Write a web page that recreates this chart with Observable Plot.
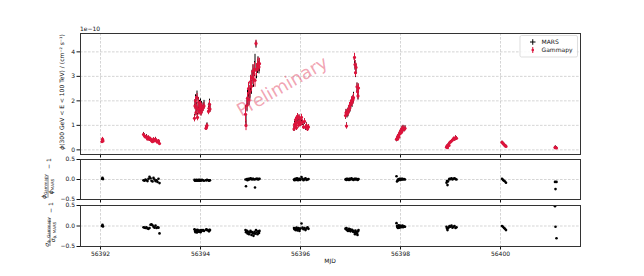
<!DOCTYPE html>
<html>
<head>
<meta charset="utf-8">
<script src="https://cdn.jsdelivr.net/npm/d3@7"></script>
<script src="https://cdn.jsdelivr.net/npm/@observablehq/plot@0.6"></script>
<style>
  html, body { margin: 0; padding: 0; background: white; }
  #chart { position: relative; width: 644px; height: 276px; overflow: hidden; }
  #chart > svg { position: absolute; left: 0; top: 0; }
</style>
</head>
<body>
<div id="chart"></div>
<script>
// ---------------- data (flux in units of 1e-10 cm^-2 s^-1) ----------------
const mjd = [
  56392.03, 56392.04, 56392.05,
  56392.86, 56392.88, 56392.90, 56392.92, 56392.94, 56392.96, 56392.98, 56393.00, 56393.02, 56393.04, 56393.06, 56393.08, 56393.10, 56393.12, 56393.14, 56393.16, 56393.18,
  56393.88, 56393.89, 56393.90, 56393.91, 56393.92, 56393.93, 56393.94, 56393.95, 56393.96, 56393.97, 56393.98, 56393.99, 56394.00, 56394.01, 56394.02, 56394.03, 56394.05, 56394.07, 56394.11, 56394.12, 56394.13, 56394.16, 56394.17, 56394.18, 56394.19,
  56394.90, 56394.91, 56394.93, 56394.94, 56394.96, 56394.97, 56394.99, 56395.00, 56395.02, 56395.03, 56395.05, 56395.06, 56395.08, 56395.09, 56395.11, 56395.12, 56395.14, 56395.15, 56395.17, 56395.18,
  56395.87, 56395.88, 56395.89, 56395.90, 56395.91, 56395.92, 56395.93, 56395.94, 56395.95, 56395.96, 56395.97, 56395.98, 56395.99, 56396.00, 56396.02, 56396.04, 56396.06, 56396.08, 56396.10, 56396.12, 56396.14, 56396.16,
  56396.90, 56396.91, 56396.92, 56396.93, 56396.94, 56396.95, 56396.97, 56396.98, 56396.99, 56397.00, 56397.02, 56397.03, 56397.05, 56397.06, 56397.08, 56397.09, 56397.10, 56397.11, 56397.13, 56397.14, 56397.15, 56397.16,
  56397.92, 56397.93, 56397.94, 56397.95, 56397.96, 56397.97, 56397.98, 56397.99, 56398.00, 56398.01, 56398.02, 56398.03, 56398.04, 56398.05, 56398.07, 56398.09,
  56398.92, 56398.93, 56398.94, 56398.95, 56398.97, 56398.98, 56399.00, 56399.02, 56399.04, 56399.06, 56399.08, 56399.10, 56399.12,
  56400.03, 56400.05, 56400.07, 56400.09, 56400.11,
  56401.09, 56401.10, 56401.12
];
const fluxMars = [
  0.33, 0.42, 0.36,
  0.64, 0.58, 0.52, 0.55, 0.46, 0.50, 0.40, 0.44, 0.38, 0.35, 0.42, 0.37, 0.45, 0.38, 0.33, 0.36, 0.28,
  1.30, 1.85, 2.05, 1.55, 1.75, 2.20, 1.35, 1.70, 1.95, 1.60, 1.85, 1.70, 1.90, 1.55, 1.80, 1.65, 1.75, 1.85, 0.90, 0.95, 1.00, 1.60, 1.75, 1.90, 1.70,
  1.45, 1.20, 1.80, 2.15, 2.45, 2.05, 2.35, 2.70, 2.55, 2.95, 3.15, 2.85, 3.30, 3.55, 4.30, 3.20, 3.40, 3.50, 3.35, 3.45,
  0.85, 1.05, 0.95, 1.20, 1.10, 0.90, 1.25, 1.35, 1.15, 1.00, 1.30, 1.10, 1.20, 1.05, 1.25, 1.10, 0.95, 1.15, 0.90, 1.00, 0.85, 0.92,
  1.40, 1.50, 0.98, 1.45, 1.55, 1.50, 1.65, 1.75, 1.70, 1.85, 1.95, 1.90, 2.05, 2.15, 3.70, 3.45, 3.15, 3.30, 2.55, 2.40, 2.20, 2.50,
  0.40, 0.48, 0.45, 0.55, 0.60, 0.52, 0.65, 0.70, 0.68, 0.78, 0.72, 0.85, 0.80, 0.90, 0.82, 0.88,
  0.12, 0.16, 0.10, 0.20, 0.18, 0.28, 0.32, 0.35, 0.40, 0.45, 0.42, 0.50, 0.47,
  0.30, 0.26, 0.22, 0.18, 0.15,
  0.10, 0.12, 0.08
];
const errMars = [
  0.06, 0.07, 0.06,
  0.07, 0.07, 0.06, 0.07, 0.06, 0.06, 0.06, 0.06, 0.05, 0.05, 0.06, 0.05, 0.06, 0.05, 0.05, 0.05, 0.05,
  0.15, 0.18, 0.20, 0.16, 0.17, 0.20, 0.15, 0.17, 0.18, 0.16, 0.17, 0.16, 0.18, 0.16, 0.17, 0.16, 0.17, 0.17, 0.10, 0.10, 0.10, 0.15, 0.16, 0.17, 0.16,
  0.35, 0.25, 0.25, 0.28, 0.30, 0.25, 0.28, 0.30, 0.28, 0.30, 0.32, 0.30, 0.30, 0.35, 0.15, 0.30, 0.28, 0.30, 0.25, 0.25,
  0.10, 0.11, 0.10, 0.12, 0.11, 0.10, 0.12, 0.13, 0.11, 0.10, 0.12, 0.11, 0.12, 0.10, 0.12, 0.11, 0.10, 0.11, 0.10, 0.10, 0.09, 0.10,
  0.15, 0.15, 0.12, 0.15, 0.15, 0.15, 0.16, 0.17, 0.16, 0.17, 0.18, 0.17, 0.18, 0.20, 0.20, 0.20, 0.20, 0.20, 0.18, 0.18, 0.17, 0.18,
  0.07, 0.07, 0.07, 0.08, 0.08, 0.07, 0.08, 0.09, 0.08, 0.09, 0.09, 0.10, 0.09, 0.10, 0.09, 0.10,
  0.04, 0.04, 0.04, 0.05, 0.05, 0.05, 0.05, 0.06, 0.06, 0.06, 0.06, 0.07, 0.06,
  0.05, 0.05, 0.05, 0.04, 0.04,
  0.04, 0.04, 0.04
];
// phi_Gammapy / phi_MARS - 1
const ratioFlux = [
  0.02, 0.04, 0.01,
  -0.02, -0.03, 0.00, -0.02, -0.04, 0.02, 0.07, 0.03, -0.03, -0.05, 0.04, 0.00, -0.04, -0.02, -0.06, 0.02, -0.09,
  -0.01, -0.03, -0.02, -0.02, -0.01, -0.03, -0.02, -0.02, -0.01, -0.03, -0.02, -0.01, -0.03, -0.02, -0.02, -0.01, -0.02, -0.03, -0.02, -0.02, -0.01, -0.02, -0.03, -0.02, -0.02,
  0.00, -0.17, 0.01, -0.02, 0.02, 0.00, 0.01, 0.03, 0.02, 0.00, 0.02, 0.01, 0.00, -0.20, 0.01, 0.02, 0.02, 0.00, 0.01, 0.02,
  0.00, -0.02, 0.01, 0.02, -0.01, 0.00, 0.03, 0.01, -0.02, 0.00, 0.02, 0.01, -0.01, 0.00, 0.06, 0.02, -0.02, 0.01, 0.03, -0.01, 0.00, 0.01,
  0.00, 0.01, -0.01, 0.02, 0.00, 0.01, -0.01, 0.02, 0.01, 0.00, 0.03, 0.01, 0.00, -0.01, 0.02, 0.01, 0.00, 0.02, 0.01, -0.01, 0.00, 0.01,
  0.08, -0.05, -0.03, 0.00, -0.02, 0.01, 0.00, 0.02, -0.01, 0.01, 0.00, 0.02, 0.01, 0.00, 0.01, 0.00,
  -0.08, -0.04, -0.14, -0.05, 0.00, 0.02, 0.01, 0.03, 0.00, 0.02, 0.03, 0.01, 0.00,
  0.02, -0.01, -0.03, -0.05, -0.08,
  -0.06, -0.24, -0.06
];
// sigma_Gammapy / sigma_MARS - 1
const ratioErr = [
  0.00, 0.03, -0.01,
  -0.03, -0.04, -0.05, -0.03, -0.06, -0.07, -0.05, 0.03, 0.04, 0.02, -0.02, -0.04, 0.01, -0.05, -0.03, -0.04, -0.18,
  -0.08, -0.12, -0.15, -0.10, -0.13, -0.16, -0.09, -0.12, -0.14, -0.11, -0.13, -0.12, -0.15, -0.10, -0.12, -0.11, -0.10, -0.12, -0.09, -0.08, -0.10, -0.11, -0.13, -0.09, -0.10,
  -0.10, -0.15, -0.12, -0.18, -0.14, -0.20, -0.16, -0.12, -0.22, -0.15, -0.18, -0.24, -0.14, -0.19, -0.10, -0.16, -0.20, -0.13, -0.17, -0.12,
  -0.05, -0.08, -0.06, -0.10, -0.07, -0.04, -0.09, -0.11, -0.06, -0.05, -0.08, -0.12, -0.07, -0.06, 0.06, -0.04, -0.08, -0.05, -0.10, -0.06, -0.03, -0.07,
  -0.06, -0.08, -0.05, -0.10, -0.09, -0.12, -0.07, -0.11, -0.08, -0.13, -0.10, -0.09, -0.14, -0.12, -0.16, -0.20, -0.11, -0.15, -0.18, -0.22, -0.13, -0.10,
  0.07, 0.00, -0.03, -0.05, 0.02, -0.01, -0.04, 0.01, -0.02, -0.03, 0.00, -0.02, 0.01, -0.03, -0.01, -0.02,
  -0.02, -0.06, -0.10, -0.05, -0.03, 0.00, -0.02, 0.01, -0.04, -0.02, 0.00, -0.05, -0.03,
  0.00, -0.02, -0.05, -0.07, -0.10,
  0.48, -0.02, -0.30
];
const binHalfWidth = 0.008;           // MARS time-bin half width (days)
const xTicks = [56392, 56394, 56396, 56398, 56400];
const xDomain = [56391.6, 56401.6];
const fluxTicks = [0, 1, 2, 3, 4];
const fluxDomain = [-0.19, 4.75];
const ratioTicks = [-0.5, 0, 0.5];
const ratioDomain = [-0.5, 0.5];
const seriesNames = ["MARS", "Gammapy"];
const seriesColors = ["black", "crimson"];

// ---------------- table ----------------
const rows = mjd.map((t, i) => ({
  t,
  f: fluxMars[i],
  e: errMars[i],
  fg: fluxMars[i] * (1 + ratioFlux[i]),
  eg: errMars[i] * (1 + ratioErr[i]),
  r1: ratioFlux[i],
  r2: ratioErr[i]
}));

const W = 644, H = 276;
const common = {
  width: W, height: H, marginLeft: 80, marginRight: 64,
  style: {background: "transparent", fontFamily: "DejaVu Sans", fontSize: "6px", color: "#111", overflow: "visible"}
};
const grid = {stroke: "#b8b8b8", strokeWidth: 0.6, strokeDasharray: "2.6,1.4"};
const fmtR = d => d.toFixed(1).replace("-", "\u2212");

const chart = document.getElementById("chart");

// ---------- main panel ----------
const p1 = Plot.plot({
  ...common, marginTop: 33, marginBottom: H - 154,
  x: {domain: xDomain, ticks: xTicks, tickSize: 3.5, tickPadding: 2, tickFormat: () => "", label: null},
  y: {domain: fluxDomain, ticks: fluxTicks, tickSize: 3.5, tickPadding: 2, tickFormat: d => String(d), label: null},
  marks: [
    Plot.ruleX(xTicks, {x: d => d, ...grid}),
    Plot.ruleY(fluxTicks, {y: d => d, ...grid}),
    Plot.ruleX(rows, {x: "t", y1: d => d.f - d.e, y2: d => d.f + d.e, stroke: seriesColors[0], strokeWidth: 1}),
    Plot.ruleY(rows, {y: "f", x1: d => d.t - binHalfWidth, x2: d => d.t + binHalfWidth, stroke: seriesColors[0], strokeWidth: 1}),
    Plot.ruleX(rows, {x: "t", y1: d => d.fg - d.eg, y2: d => d.fg + d.eg, stroke: seriesColors[1], strokeWidth: 1}),
    Plot.dot(rows, {x: "t", y: "fg", r: 1.6, fill: seriesColors[1], stroke: "none"}),
    Plot.frame({stroke: "#333", strokeWidth: 1})
  ]
});
chart.appendChild(p1);

// ---------- residual panels ----------
function residual(top, bottom, key, labels) {
  return Plot.plot({
    ...common, marginTop: top, marginBottom: H - bottom,
    x: {domain: xDomain, ticks: xTicks, tickSize: 3.5, tickPadding: 1.5,
        tickFormat: labels ? (d => String(d)) : (() => ""), label: null},
    y: {domain: ratioDomain, ticks: ratioTicks, tickSize: 3.5, tickPadding: 2, tickFormat: fmtR, label: null},
    marks: [
      Plot.ruleX(xTicks, {x: d => d, ...grid}),
      Plot.ruleY([0], {y: d => d, ...grid}),
      Plot.dot(rows, {x: "t", y: key, r: 1.3, fill: "black", stroke: "none", clip: true}),
      Plot.frame({stroke: "#333", strokeWidth: 1})
    ]
  });
}
chart.appendChild(residual(159, 199, "r1", false));
chart.appendChild(residual(205, 246, "r2", true));

// ---------- annotations overlay ----------
const ov = d3.select(chart).append("svg")
  .attr("width", W).attr("height", H)
  .style("font-family", "DejaVu Sans").style("font-size", "6px").style("fill", "#111");

ov.append("text").attr("x", 80).attr("y", 30.5).text("1e\u221210");

// main y label
const yl = ov.append("text").attr("text-anchor", "middle")
  .attr("transform", "translate(63.5,92) rotate(-90)");
yl.append("tspan").attr("font-style", "italic").text("\u03D5");
yl.append("tspan").text("(300 GeV < E < 100 TeV) / (cm\u207B\u00B2 s\u207B\u00B9)");

// x label
ov.append("text").attr("x", 330).attr("y", 263).attr("text-anchor", "middle").text("MJD");

function rotText(x, y, main, sub, italic) {
  const t = ov.append("text").attr("text-anchor", "middle")
    .attr("transform", `translate(${x},${y}) rotate(-90)`);
  t.append("tspan").attr("font-style", italic ? "italic" : null).text(main);
  if (sub) t.append("tspan").attr("font-size", "4px").attr("dy", 1.2).text(sub);
  return t;
}
// panel 2 label
rotText(46, 186.5, "\u03D5", "Gammapy", true);
rotText(52.5, 186.5, "\u03D5", "MARS", true);
ov.append("line").attr("x1", 48).attr("x2", 48).attr("y1", 175.5).attr("y2", 197.5)
  .attr("stroke", "#111").attr("stroke-width", 0.5);
ov.append("text").attr("text-anchor", "middle").attr("transform", "translate(50.5,163.5) rotate(-90)").text("\u2212 1");
// panel 3 label
rotText(48.5, 232, "\u03C3", "\u03D5, Gammapy", true);
rotText(55, 232, "\u03C3", "\u03D5, MARS", true);
ov.append("line").attr("x1", 50).attr("x2", 50).attr("y1", 218).attr("y2", 246)
  .attr("stroke", "#111").attr("stroke-width", 0.5);
ov.append("text").attr("text-anchor", "middle").attr("transform", "translate(52.5,207.5) rotate(-90)").text("\u2212 1");

// legend
const lg = ov.append("g");
lg.append("rect").attr("x", 520).attr("y", 35.5).attr("width", 57.5).attr("height", 21.5)
  .attr("rx", 1.5).attr("fill", "white").attr("fill-opacity", 0.85)
  .attr("stroke", "#d0d0d0").attr("stroke-width", 0.7);
lg.append("line").attr("x1", 530).attr("x2", 535.5).attr("y1", 42).attr("y2", 42).attr("stroke", seriesColors[0]).attr("stroke-width", 1);
lg.append("line").attr("x1", 532.75).attr("x2", 532.75).attr("y1", 39.2).attr("y2", 44.8).attr("stroke", seriesColors[0]).attr("stroke-width", 1);
lg.append("line").attr("x1", 532.75).attr("x2", 532.75).attr("y1", 47).attr("y2", 53).attr("stroke", seriesColors[1]).attr("stroke-width", 1);
lg.append("circle").attr("cx", 532.75).attr("cy", 50).attr("r", 1.3).attr("fill", seriesColors[1]);
lg.append("text").attr("x", 541.5).attr("y", 44).text(seriesNames[0]);
lg.append("text").attr("x", 541.5).attr("y", 52).text(seriesNames[1]);

// watermark
ov.append("text").attr("text-anchor", "middle").attr("dominant-baseline", "central")
  .attr("transform", "translate(282,86) rotate(-30)")
  .attr("font-size", "18px").attr("fill", "crimson").attr("fill-opacity", 0.4)
  .text("Preliminary");
</script>
</body>
</html>
